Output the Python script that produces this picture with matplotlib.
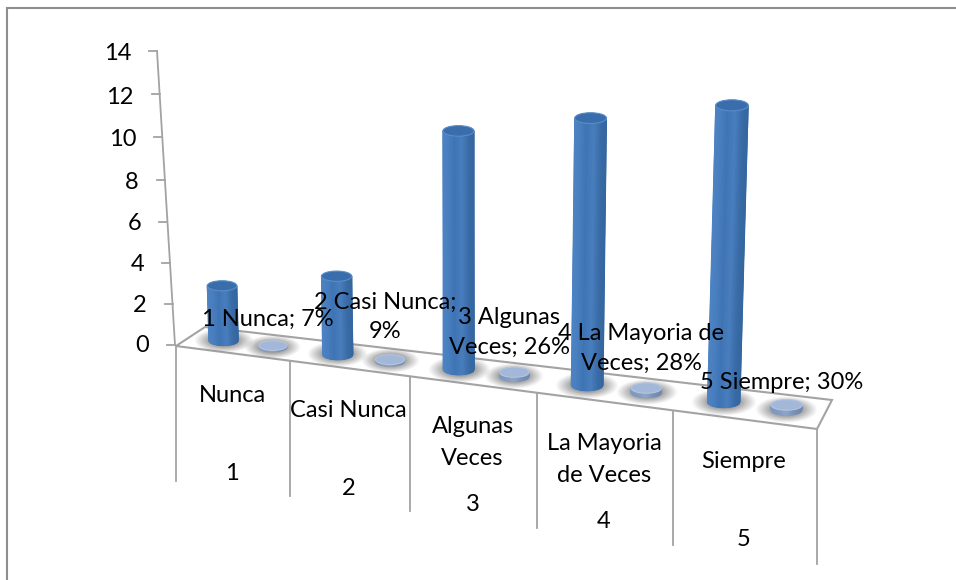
import numpy as np
import matplotlib
matplotlib.use("Agg")
import matplotlib.pyplot as plt
from matplotlib.colors import LinearSegmentedColormap
from matplotlib.patches import Ellipse, Polygon

categories = ["Nunca", "Casi Nunca", "Algunas\nVeces", "La Mayoria\nde Veces", "Siempre"]
numbers = ["1", "2", "3", "4", "5"]
counts = [3, 4, 11, 12, 13]
shares = [0.07, 0.09, 0.26, 0.28, 0.30]
point_labels = ["1 Nunca; 7%", "2 Casi Nunca;\n9%", "3 Algunas\nVeces; 26%",
                "4 La Mayoria de\nVeces; 28%", "5 Siempre; 30%"]
y_ticks = [0, 2, 4, 6, 8, 10, 12, 14]

GREY = "#a3a3a3"
FONT = "Lato"
FS = 17
SLAB = 10  # the columns start from the underside of the floor slab

body_cmap = LinearSegmentedColormap.from_list("body", ["#34669f", "#4a7fbf", "#3f74b5", "#4d83c3"])
disc_cmap = LinearSegmentedColormap.from_list("disc", ["#6f88b2", "#8fa5c8", "#7f97bf"])


def persp(u, k):
    return u * (1 + k) / (1 + k * u)


def floor_point(t, depth):
    # t runs 0..5 along the categories, depth 0 is the front edge, 1 the back
    p = persp(t / 5, -0.139)
    fx, fy = 176 + 641 * p, 346 + 83 * p
    bx, by = 205 + 627 * p, 327 + 73 * p
    return fx + (bx - fx) * depth, fy + (by - fy) * depth


def axis_point(v):
    p = persp(v / 14, -0.04)
    return 175 - 18 * p, 345 - 294 * p


def shadow(ax, x, y, w, clip):
    gx, gy = np.meshgrid(np.linspace(-1, 1, 90), np.linspace(-1, 1, 50))
    r = np.clip(1 - np.hypot(gx, gy), 0, 1)
    img = np.zeros(r.shape + (4,))
    img[..., :3] = 0.4
    img[..., 3] = 0.8 * np.clip(r * 1.5, 0, 1)
    rx, ry = w * 1.0, w * 0.42
    im = ax.imshow(img, extent=(x - rx, x + rx, y + ry, y - ry), aspect="auto",
                   interpolation="bilinear", zorder=2)
    im.set_clip_path(clip)


def cylinder(ax, x, y, w, h, cmap, top_color, rim_color, z):
    # leaning slightly away from the vanishing line
    lean = h * (x - 470) * 1.1e-4
    u = np.linspace(-1, 1, 41)
    b = w * 0.17
    base = np.sqrt(1 - u ** 2) * b
    xs = x + u * w / 2
    X = np.vstack([xs, xs + lean])
    Y = np.vstack([y + base, np.full_like(u, y - h)])
    shade = 0.5 + 0.5 * np.sin(u * 1.4) * -1
    C = np.vstack([shade, shade])
    ax.pcolormesh(X, Y, C, shading="gouraud", cmap=cmap, vmin=0, vmax=1, zorder=z)
    ax.add_patch(Ellipse((x + lean, y - h), w, 2 * b, facecolor=top_color,
                         edgecolor=rim_color, linewidth=0.8, zorder=z + 0.1))


fig = plt.figure(figsize=(9.56, 5.8), dpi=100, facecolor="white")
ax = fig.add_axes([0, 0, 1, 1])
ax.axis("off")

# chart frame, cut off on the right and at the bottom
ax.plot([7.5, 7.5, 956], [580, 8, 8], color="#8e8e8e", lw=1.5, zorder=1, solid_joinstyle="miter")

# value axis
ax_x0, ax_y0 = axis_point(0)
ax_x1, ax_y1 = axis_point(14)
ax.plot([ax_x0, ax_x1], [ax_y0, ax_y1], color=GREY, lw=1.3, zorder=3)
for v in y_ticks:
    tx, ty = axis_point(v)
    ax.plot([tx - 8, tx], [ty, ty], color=GREY, lw=1.3, zorder=3)
    ax.text(tx - 26, ty + 1 + 2 * v / 14, str(v), ha="right", va="center", family=FONT, fontsize=FS, zorder=6)

# floor
corners = [floor_point(0, 0), floor_point(5, 0), floor_point(5, 1), floor_point(0, 1)]
floor = Polygon(corners, closed=True, facecolor="white", edgecolor=GREY, linewidth=1.5, zorder=1.5)
ax.add_patch(floor)

# category table under the floor
for i in range(6):
    fx, fy = floor_point(i, 0)
    ax.plot([fx, fx], [fy, fy + 135], color=GREY, lw=1.3, zorder=1)

for i, (name, num) in enumerate(zip(categories, numbers)):
    fx, fy = floor_point(i + 0.5, 0)
    off = 58 if "\n" in name else 42
    ax.text(fx, fy + off, name, ha="center", va="center", family=FONT, fontsize=FS,
            linespacing=1.6, zorder=5)
    ax.text(fx, fy + 120, num, ha="center", va="center", family=FONT, fontsize=FS, zorder=5)

# shadows go first so they stay underneath both series
for i in range(5):
    s = 1 + 0.0245 * i
    cx, cy = floor_point(i + 0.3, 0.5)
    dx, dy = floor_point(i + 0.74, 0.5)
    shadow(ax, cx, cy, 29.6 * s, floor)
    shadow(ax, dx, dy, 28.5 * s, floor)

for i in range(5):
    s = 1 + 0.0245 * i
    unit = 21.6 + 0.5 * i
    cx, cy = floor_point(i + 0.3, 0.5)
    dx, dy = floor_point(i + 0.74, 0.5)
    cylinder(ax, dx, dy, 28.5 * s, shares[i] * unit * 0.7, disc_cmap, "#a3b7d8", "#b4c5df", 3)
    cylinder(ax, cx, cy, 29.6 * s, counts[i] * unit - SLAB, body_cmap, "#3a6dab", "#5a8cc8", 4)
    off = 44 if "\n" in point_labels[i] else 27
    ax.text(dx - 5, dy - off, point_labels[i], ha="center", va="center", family=FONT,
            fontsize=FS, linespacing=1.5, zorder=7)

ax.set_xlim(0, 956)
ax.set_ylim(580, 0)
fig.savefig("out.png", dpi=100)
